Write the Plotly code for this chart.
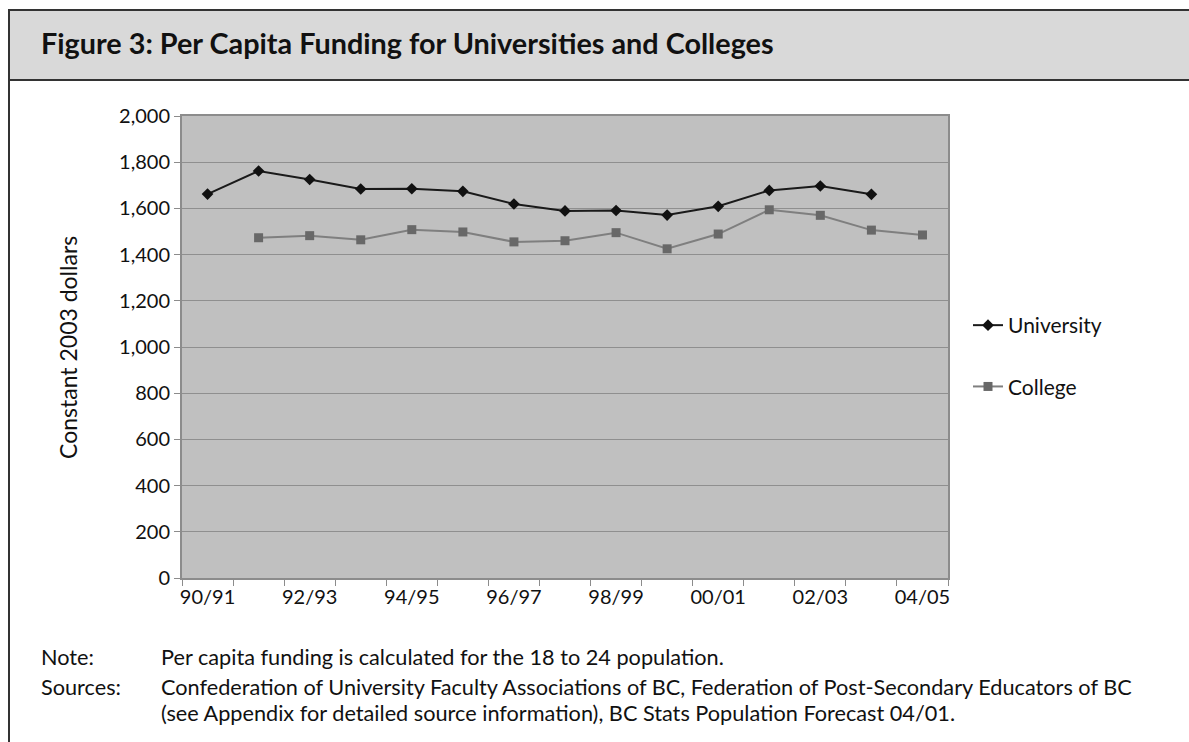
import plotly.graph_objects as go

categories = ["90/91", "91/92", "92/93", "93/94", "94/95", "95/96", "96/97", "97/98",
              "98/99", "99/00", "00/01", "01/02", "02/03", "03/04", "04/05"]
university = [1662, 1762, 1725, 1684, 1685, 1674, 1619, 1589, 1591, 1571, 1609, 1678, 1697, 1661, None]
college = [None, 1473, 1482, 1464, 1508, 1498, 1455, 1460, 1495, 1425, 1489, 1594, 1570, 1506, 1485]
y_ticks = list(range(0, 2001, 200))

W, H = 1189, 742
L, R, T, B = 182, 948, 116, 578
FONT = "Lato"


def px(X):
    return (X - L) / (R - L)


def py(Y):
    return (B - Y) / (B - T)


fig = go.Figure()
fig.add_trace(go.Scatter(
    x=categories, y=university, name="University", mode="lines+markers",
    line=dict(color="#1a1a1a", width=2), legendgroup="u",
    marker=dict(symbol="diamond", size=9, color="#111111"), connectgaps=False))
fig.add_trace(go.Scatter(
    x=categories, y=college, name="College", mode="lines+markers",
    line=dict(color="#7f7f7f", width=2), legendgroup="c",
    marker=dict(symbol="square", size=9, color="#686868"), connectgaps=False))

shapes = [
    dict(type="rect", xref="paper", yref="paper", x0=px(9), x1=px(1195), y0=py(80), y1=py(10),
         fillcolor="#d9d9d9", line=dict(color="#333333", width=2), layer="below"),
    dict(type="line", xref="paper", yref="paper", x0=px(9), x1=px(9), y0=py(80), y1=py(745),
         line=dict(color="#333333", width=2)),
]

TXT = dict(family=FONT, size=21.7, color="#111111")
annotations = [
    dict(text="<b>Figure 3: Per Capita Funding for Universities and Colleges</b>", x=px(39), y=py(43),
         xref="paper", yref="paper", xanchor="left", yanchor="middle", showarrow=False,
         font=dict(family=FONT, size=28.8, color="#111111")),
    dict(text="Constant 2003 dollars", x=px(68), y=py(348), xref="paper", yref="paper",
         textangle=-90, showarrow=False, xanchor="center", yanchor="middle",
         font=dict(family=FONT, size=23, color="#111111")),
    dict(text="Note:", x=px(39), y=py(657), xref="paper", yref="paper", xanchor="left",
         yanchor="middle", showarrow=False, font=TXT),
    dict(text="Per capita funding is calculated for the 18 to 24 population.", x=px(159), y=py(657),
         xref="paper", yref="paper", xanchor="left", yanchor="middle", showarrow=False, font=TXT),
    dict(text="Sources:", x=px(39), y=py(687), xref="paper", yref="paper", xanchor="left",
         yanchor="middle", showarrow=False, font=TXT),
    dict(text="Confederation of University Faculty Associations of BC, Federation of Post-Secondary Educators of BC",
         x=px(159), y=py(687), xref="paper", yref="paper", xanchor="left", yanchor="middle",
         showarrow=False, font=TXT),
    dict(text="(see Appendix for detailed source information), BC Stats Population Forecast 04/01.",
         x=px(159), y=py(713), xref="paper", yref="paper", xanchor="left", yanchor="middle",
         showarrow=False, font=TXT),
]

fig.update_layout(
    width=W, height=H,
    margin=dict(l=L, r=W - R, t=T, b=H - B),
    paper_bgcolor="white", plot_bgcolor="#c0c0c0",
    font=dict(family=FONT, size=20, color="#111111"),
    shapes=shapes, annotations=annotations,
    legend=dict(x=px(968), y=py(305), xanchor="left", yanchor="top",
                font=dict(family=FONT, size=21, color="#111111"),
                traceorder="grouped", tracegroupgap=31, bgcolor="rgba(0,0,0,0)"),
)
fig.update_xaxes(
    type="category", tickson="boundaries", ticks="outside", ticklen=6, tickcolor="#8c8c8c",
    tickvals=categories, ticktext=[c if i % 2 == 0 else "" for i, c in enumerate(categories)],
    tickangle=0, showgrid=False, showline=True, linecolor="#8c8c8c", linewidth=2, mirror=True,
    range=[-0.5, len(categories) - 0.5], tickfont=dict(size=20),
)
fig.update_yaxes(
    range=[0, 2000], tickvals=y_ticks, tickformat=",", ticks="outside", ticklen=6,
    tickcolor="#8c8c8c", gridcolor="#8f8f8f", gridwidth=1, showline=True, linecolor="#8c8c8c",
    linewidth=2, mirror=True, zeroline=False, tickfont=dict(size=20),
)

fig.write_html("out.html")
